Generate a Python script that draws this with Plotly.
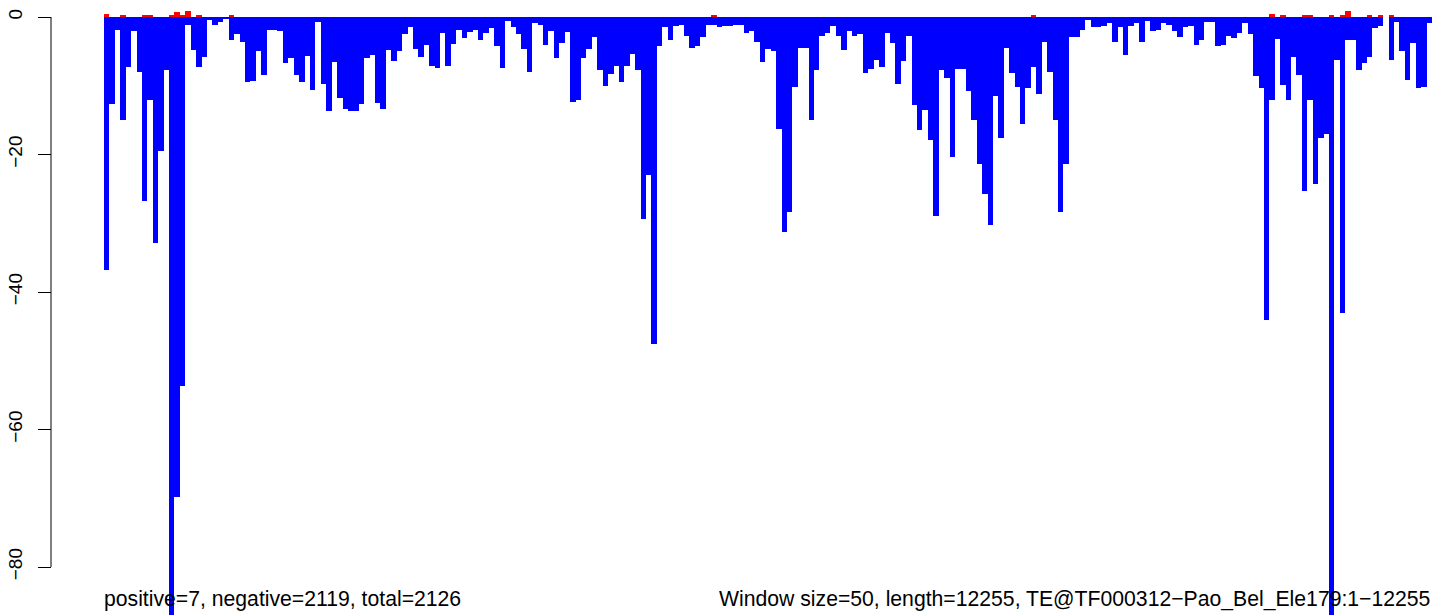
import plotly.graph_objects as go

# Window coverage values (one per 50-bp window)
neg_values = [
    -36.8, -12.7, -1.9, -15.0, -7.2, -2.0, -8.0, -26.7, -12.1, -32.9,
    -19.5, -7.7, -90.0, -69.8, -53.7, -1.2, -4.8, -7.2, -5.8, -0.4,
    -1.1, -0.7, -0.3, -3.3, -2.5, -3.7, -9.4, -9.3, -5.0, -8.5,
    -1.9, -1.9, -2.1, -6.7, -5.9, -8.4, -9.4, -5.7, -10.6, -0.7,
    -9.8, -13.7, -6.6, -11.8, -13.4, -13.7, -13.7, -12.7, -5.9, -5.5,
    -12.5, -13.4, -4.8, -6.4, -5.0, -2.5, -1.5, -4.6, -5.8, -4.1,
    -7.1, -7.4, -2.3, -7.1, -3.9, -1.9, -3.1, -2.2, -1.9, -3.3,
    -2.3, -1.6, -4.2, -7.4, -0.6, -1.5, -2.5, -4.6, -8.0, -0.9,
    -1.2, -4.1, -2.0, -5.9, -3.8, -2.2, -12.4, -12.1, -6.0, -4.6,
    -2.9, -7.7, -10.1, -8.3, -7.1, -9.4, -7.1, -5.4, -7.7, -29.4,
    -23.0, -47.6, -4.2, -1.5, -3.3, -1.3, -1.2, -2.8, -4.5, -4.2,
    -2.9, -1.2, -1.2, -1.5, -1.3, -1.3, -1.2, -1.2, -2.3, -2.0,
    -3.6, -6.6, -4.7, -5.0, -16.3, -31.2, -28.3, -10.2, -4.5, -4.5,
    -15.0, -7.7, -2.8, -2.3, -1.3, -2.8, -4.8, -2.0, -2.8, -2.5,
    -8.2, -7.6, -6.3, -7.3, -2.3, -3.8, -9.8, -6.4, -2.8, -12.8,
    -16.5, -13.5, -17.9, -29.0, -7.7, -8.9, -20.4, -7.6, -7.6, -10.8,
    -15.0, -21.4, -25.8, -30.3, -11.5, -17.6, -4.5, -8.2, -10.2, -15.6,
    -10.3, -7.3, -11.2, -3.6, -8.0, -15.0, -28.4, -21.4, -2.9, -2.9,
    -1.9, -0.4, -1.5, -1.5, -1.3, -0.9, -3.6, -1.5, -5.5, -1.3,
    -0.9, -3.6, -0.6, -2.0, -1.9, -0.9, -1.2, -2.0, -2.9, -1.5,
    -1.3, -4.1, -3.3, -0.7, -0.7, -4.2, -4.1, -2.8, -3.1, -2.3,
    -0.9, -2.5, -8.6, -10.3, -44.1, -12.1, -3.2, -9.9, -12.1, -5.8,
    -8.4, -25.3, -12.1, -24.3, -17.6, -17.0, -90.0, -6.3, -43.1, -3.3,
    -3.3, -7.7, -6.7, -5.8, -1.6, -1.3, 0.0, -6.3, -0.7, -5.0,
    -9.2, -3.8, -10.3, -10.2, -0.9,
]
windows = list(range(len(neg_values)))

pos_windows = [0, 3, 7, 8, 12, 13, 14, 15, 17, 23, 112, 171,
               215, 217, 221, 222, 226, 228, 229, 233, 235, 237]
pos_values = [0.44, 0.15, 0.15, 0.15, 0.15, 0.73, 0.3, 0.87, 0.15, 0.15, 0.15, 0.15,
              0.44, 0.15, 0.15, 0.15, 0.15, 0.15, 0.87, 0.15, 0.15, 0.15]

y_ticks = [0, -20, -40, -60, -80]
left_note = "positive=7, negative=2119, total=2126"
right_note = "Window size=50, length=12255, TE@TF000312\u2212Pao_Bel_Ele179:1\u221212255"

W, H = 1433, 615
FONT = "Liberation Sans, Arial, Helvetica, sans-serif"

fig = go.Figure()
fig.add_trace(go.Bar(x=windows, y=neg_values, marker=dict(color="#0000FF", line=dict(width=0)),
                     width=1.0, hoverinfo="x+y"))
fig.add_trace(go.Bar(x=pos_windows, y=pos_values, marker=dict(color="#FF0000", line=dict(width=0)),
                     width=1.0, hoverinfo="x+y"))

axis_x = 51 / W
fig.update_layout(
    width=W, height=H,
    margin=dict(l=0, r=0, t=0, b=0),
    paper_bgcolor="white", plot_bgcolor="white",
    barmode="overlay", bargap=0, showlegend=False,
    font=dict(family=FONT, size=19, color="black"),
    xaxis=dict(domain=[104 / W, 1432 / W], range=[-0.5, len(neg_values) - 0.5],
               visible=False, fixedrange=True),
    yaxis=dict(range=[-598 / 6.875, 17 / 6.875], anchor="free", position=axis_x,
               tickvals=y_ticks, ticks="outside", ticklen=13, tickwidth=1, tickcolor="black",
               tickangle=-90, ticklabelstandoff=8, showgrid=False, showline=False,
               zeroline=False, tickfont=dict(family=FONT, size=19, color="black")),
)

# y-axis line spanning the tick range only
fig.add_shape(type="line", xref="paper", yref="y", x0=axis_x, x1=axis_x,
              y0=min(y_ticks), y1=max(y_ticks), line=dict(color="black", width=1))

fig.add_annotation(text=left_note, xref="paper", yref="paper", x=102 / W, y=16 / H,
                   xanchor="left", yanchor="middle", showarrow=False,
                   font=dict(family=FONT, size=21.2, color="black"))
fig.add_annotation(text=right_note, xref="paper", yref="paper", x=1432 / W, y=16 / H,
                   xanchor="right", yanchor="middle", showarrow=False,
                   font=dict(family=FONT, size=21.2, color="black"))

fig.write_html("out.html", config={"displayModeBar": False},
               post_script="document.body.style.margin='0';document.body.style.overflow='hidden';")
